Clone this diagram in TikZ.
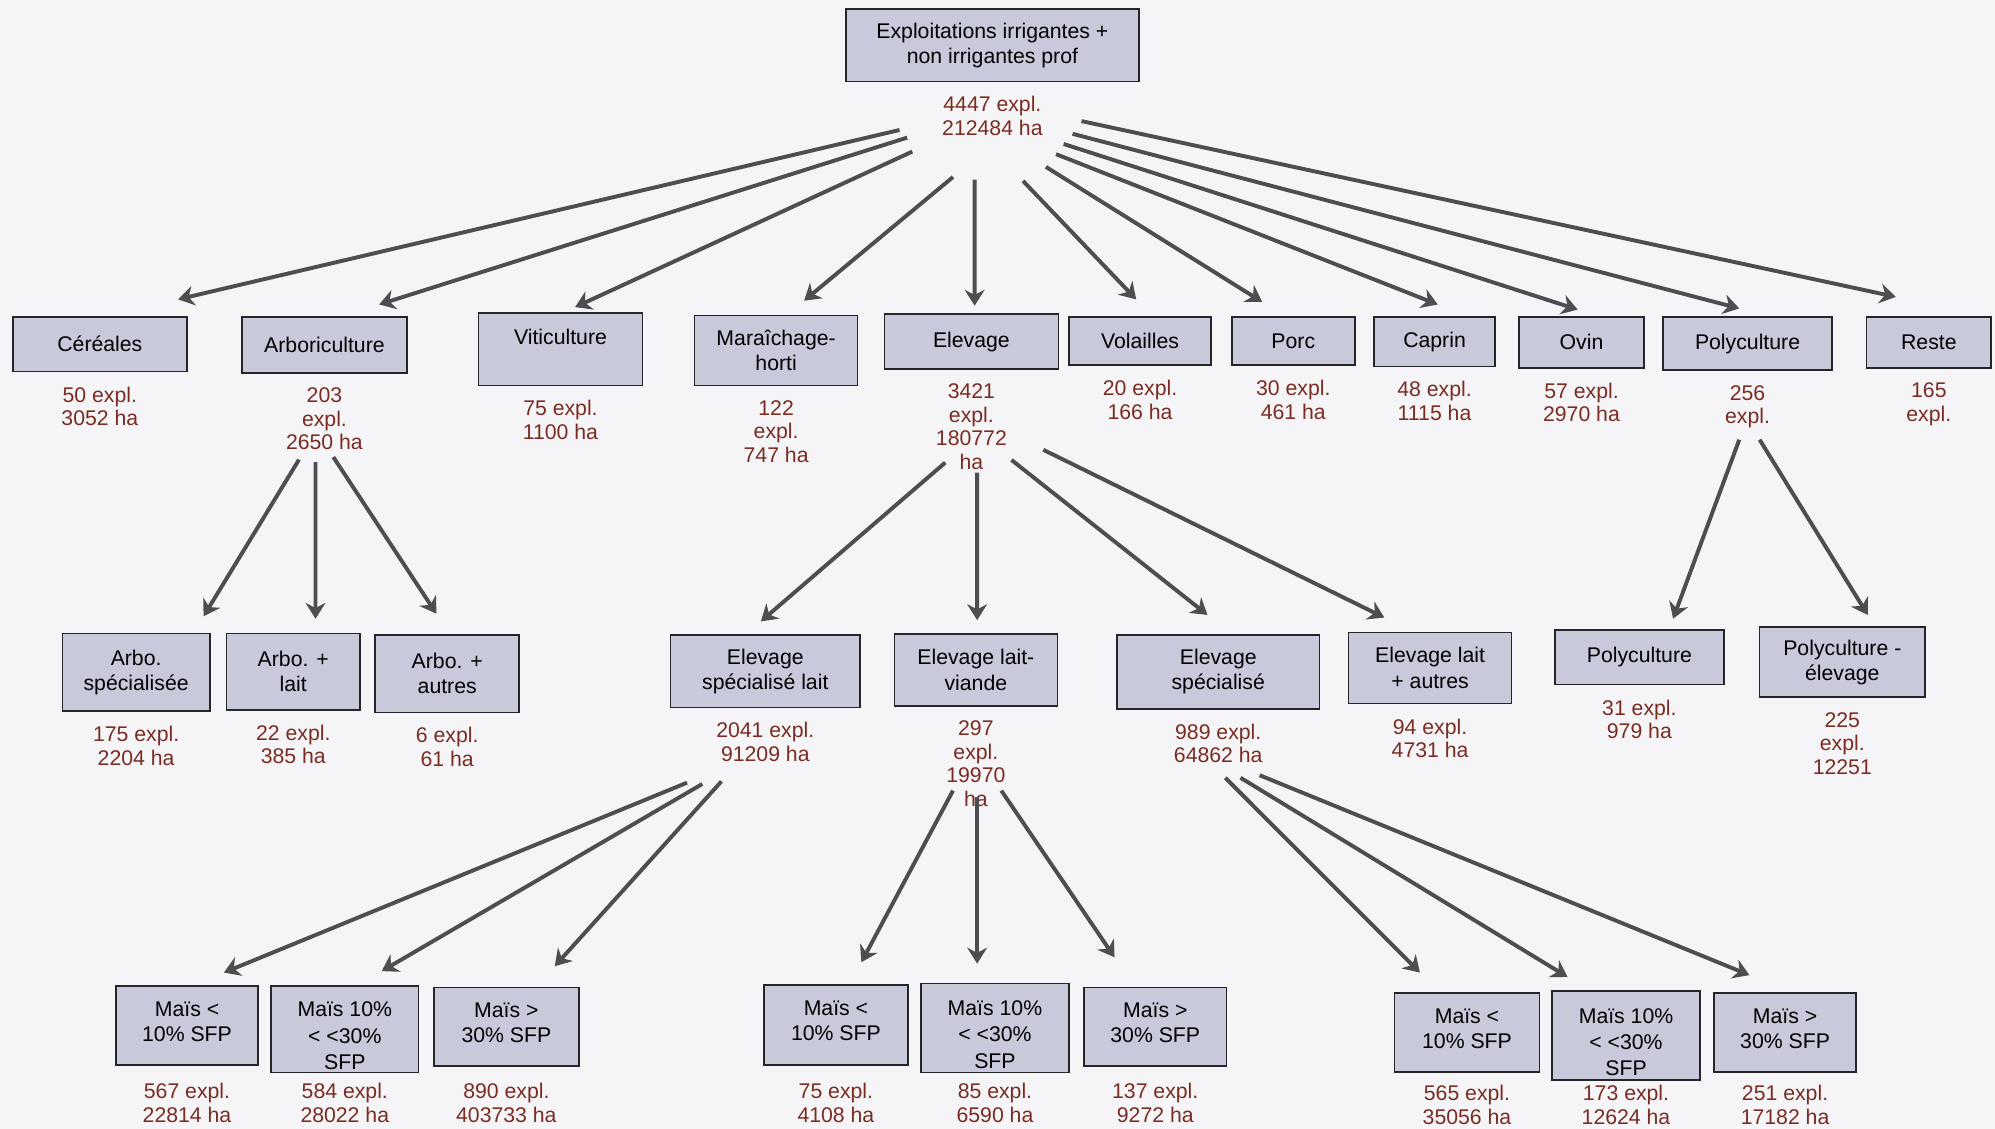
\documentclass[tikz,border=0pt]{standalone}
\usepackage{fontspec}
\setmainfont{Liberation Sans}
\usepackage{tikz}
\usetikzlibrary{arrows.meta, positioning, calc}
\definecolor{boxfill}{RGB}{201,201,220}
\definecolor{statred}{RGB}{122,44,34}
\definecolor{arrowgray}{RGB}{78,78,82}
\definecolor{paper}{RGB}{245,245,247}

\begin{document}
\begin{tikzpicture}[
  x=0.032cm, y=-0.032cm,
  node distance=10pt,
  box/.style={rectangle, draw=black!85, line width=1.2pt, fill=boxfill, align=center, inner sep=2pt, font=\fontsize{15.2}{18}\selectfont},
  maisbox/.style={box, path picture={\node[anchor=north, align=center, inner sep=0pt, font=\fontsize{15.2}{18.8}\selectfont] at ([yshift=-4pt]path picture bounding box.north) {Maïs 10\%\\< <30\%\\SFP};}},
  stats/.style={align=center, inner sep=0pt, text=statred, font=\fontsize{15.2}{16.8}\selectfont},
  arrow/.style={-{Stealth[length=4mm, width=5mm, inset=1.3mm]}, line width=2.8pt, draw=arrowgray},
]
\fill[paper] (0,0) rectangle (1568,887);
\useasboundingbox (0,0) rectangle (1568,887);

% Racine
\node[box, minimum width=7.36cm, minimum height=1.82cm] (expl) at (780,35.5) {Exploitations irrigantes +\\non irrigantes prof};
\node[stats, below=of expl] (explstat) {4447 expl.\\212484 ha};

% Premier niveau
\node[box, minimum width=4.38cm, minimum height=1.38cm] (cer) at (78.5,270.5) {Céréales};
\node[stats, below=of cer] (cerstat) {50 expl.\\3052 ha};
\node[box, minimum width=4.16cm, minimum height=1.41cm] (arb) at (255,271) {Arboriculture};
\node[stats, below=of arb] (arbstat) {203\\expl.\\2650 ha};
\node[box, minimum width=4.13cm, minimum height=1.82cm, text height=11pt, text depth=18pt] (vit) at (440.5,274.5) {Viticulture};
\node[stats, below=of vit] (vitstat) {75 expl.\\1100 ha};
\node[box, minimum width=4.10cm, minimum height=1.76cm] (mar) at (610,275.5) {Maraîchage-\\horti};
\node[stats, below=of mar] (marstat) {122\\expl.\\747 ha};
\node[box, minimum width=4.38cm, minimum height=1.38cm] (ele) at (763.5,268.5) {Elevage};
\node[stats, below=of ele] (elestat) {3421\\expl.\\180772\\ha};
\node[box, minimum width=3.58cm, minimum height=1.22cm] (vol) at (896,268) {Volailles};
\node[stats, below=of vol] (volstat) {20 expl.\\166 ha};
\node[box, minimum width=3.10cm, minimum height=1.22cm] (por) at (1016.5,268) {Porc};
\node[stats, below=of por] (porstat) {30 expl.\\461 ha};
\node[box, minimum width=3.04cm, minimum height=1.25cm] (cap) at (1127.5,268.5) {Caprin};
\node[stats, below=of cap] (capstat) {48 expl.\\1115 ha};
\node[box, minimum width=3.14cm, minimum height=1.28cm] (ovi) at (1243,269) {Ovin};
\node[stats, below=of ovi] (ovistat) {57 expl.\\2970 ha};
\node[box, minimum width=4.26cm, minimum height=1.34cm] (pol) at (1373.5,270) {Polyculture};
\node[stats, below=of pol] (polstat) {256\\expl.};
\node[box, minimum width=3.14cm, minimum height=1.28cm] (res) at (1516,269) {Reste};
\node[stats, below=of res] (resstat) {165\\expl.};

% Second niveau
\node[box, minimum width=3.71cm, minimum height=1.95cm] (as) at (107,528.5) {Arbo.\\spécialisée};
\node[stats, below=of as] (asstat) {175 expl.\\2204 ha};
\node[box, minimum width=3.36cm, minimum height=1.92cm] (al) at (230.5,528) {Arbo. +\\lait};
\node[stats, below=of al] (alstat) {22 expl.\\385 ha};
\node[box, minimum width=3.62cm, minimum height=1.95cm] (aa) at (351.5,529.5) {Arbo. +\\autres};
\node[stats, below=of aa] (aastat) {6 expl.\\61 ha};
\node[box, minimum width=4.77cm, minimum height=1.82cm] (esl) at (601.5,527.5) {Elevage\\spécialisé lait};
\node[stats, below=of esl] (eslstat) {2041 expl.\\91209 ha};
\node[box, minimum width=4.10cm, minimum height=1.82cm] (elv) at (767,526.5) {Elevage lait-\\viande};
\node[stats, below=of elv] (elvstat) {297\\expl.\\19970\\ha};
\node[box, minimum width=5.09cm, minimum height=1.86cm] (es) at (957.5,528) {Elevage\\spécialisé};
\node[stats, below=of es] (esstat) {989 expl.\\64862 ha};
\node[box, minimum width=4.10cm, minimum height=1.79cm] (ela) at (1124,525) {Elevage lait\\+ autres};
\node[stats, below=of ela] (elastat) {94 expl.\\4731 ha};
\node[box, minimum width=4.26cm, minimum height=1.38cm] (pc) at (1288.5,516.5) {Polyculture};
\node[stats, below=of pc] (pcstat) {31 expl.\\979 ha};
\node[box, minimum width=4.16cm, minimum height=1.76cm] (pe) at (1448,520.5) {Polyculture -\\élevage};
\node[stats, below=of pe] (pestat) {225\\expl.\\12251};

% Maïs / SFP
\node[box, minimum width=3.58cm, minimum height=1.98cm, text depth=6pt] (mA1) at (147,806) {Maïs <\\10\% SFP};
\node[maisbox, minimum width=3.71cm, minimum height=2.18cm] (mA2) at (271,809) {};
\node[box, minimum width=3.65cm, minimum height=1.98cm, text depth=6pt] (mA3) at (398,807) {Maïs >\\30\% SFP};
\node[stats, below=7pt of mA2] (sA2) {584 expl.\\28022 ha};
\node[stats, anchor=north] (sA1) at (mA1.south |- sA2.north) {567 expl.\\22814 ha};
\node[stats, anchor=north] (sA3) at (mA3.south |- sA2.north) {890 expl.\\403733 ha};

\node[box, minimum width=3.62cm, minimum height=2.02cm, text depth=6pt] (mB1) at (657,805.5) {Maïs <\\10\% SFP};
\node[maisbox, minimum width=3.71cm, minimum height=2.24cm] (mB2) at (782,808) {};
\node[box, minimum width=3.58cm, minimum height=1.98cm, text depth=6pt] (mB3) at (908,807) {Maïs >\\30\% SFP};
\node[stats, below=7pt of mB2] (sB2) {85 expl.\\6590 ha};
\node[stats, anchor=north] (sB1) at (mB1.south |- sB2.north) {75 expl.\\4108 ha};
\node[stats, anchor=north] (sB3) at (mB3.south |- sB2.north) {137 expl.\\9272 ha};

\node[box, minimum width=3.65cm, minimum height=1.98cm, text depth=6pt] (mC1) at (1153,811.5) {Maïs <\\10\% SFP};
\node[maisbox, minimum width=3.71cm, minimum height=2.24cm] (mC2) at (1278,814) {};
\node[box, minimum width=3.58cm, minimum height=1.98cm, text depth=6pt] (mC3) at (1403,811.5) {Maïs >\\30\% SFP};
\node[stats, below=3pt of mC2] (sC2) {173 expl.\\12624 ha};
\node[stats, anchor=north] (sC1) at (mC1.south |- sC2.north) {565 expl.\\35056 ha};
\node[stats, anchor=north] (sC3) at (mC3.south |- sC2.north) {251 expl.\\17182 ha};

% Flèches
\draw[arrow] ([shift={(-73,11)}]explstat.center) -- ([shift={(61.5,-13)}]cer.north);
\draw[arrow] ([shift={(-67,17)}]explstat.center) -- ([shift={(43,-9)}]arb.north);
\draw[arrow] ([shift={(-63,28)}]explstat.center) -- ([shift={(11.5,-4)}]vit.north);
\draw[arrow] ([shift={(-31,48)}]explstat.center) -- ([shift={(22,-11)}]mar.north);
\draw[arrow] ([shift={(-14,50)}]explstat.center) -- ([shift={(2.5,-6)}]ele.north);
\draw[arrow] ([shift={(24,51)}]explstat.center) -- ([shift={(-3,-13)}]vol.north);
\draw[arrow] ([shift={(42,40)}]explstat.center) -- ([shift={(-24.5,-11)}]por.north);
\draw[arrow] ([shift={(50,30)}]explstat.center) -- ([shift={(2.5,-9)}]cap.north);
\draw[arrow] ([shift={(56,22)}]explstat.center) -- ([shift={(-3,-5)}]ovi.north);
\draw[arrow] ([shift={(63,14)}]explstat.center) -- ([shift={(-6.5,-6)}]pol.north);
\draw[arrow] ([shift={(70,4)}]explstat.center) -- ([shift={(-26,-15)}]res.north);

\draw[arrow] ([shift={(-20,32)}]arbstat.center) -- ([shift={(53,-13)}]as.north);
\draw[arrow] ([shift={(-7,34)}]arbstat.center) -- ([shift={(17.5,-11)}]al.north);
\draw[arrow] ([shift={(7,30)}]arbstat.center) -- ([shift={(-8.5,-16)}]aa.north);

\draw[arrow] ([shift={(-20.5,28)}]elestat.center) -- ([shift={(-3.5,-10)}]esl.north);
\draw[arrow] ([shift={(4.5,36)}]elestat.center) -- ([shift={(1,-10)}]elv.north);
\draw[arrow] ([shift={(31.5,26)}]elestat.center) -- ([shift={(-8.5,-15)}]es.north);
\draw[arrow] ([shift={(56.5,18)}]elestat.center) -- ([shift={(-36,-11)}]ela.north);

\draw[arrow] ([shift={(-6.5,26)}]polstat.center) -- ([shift={(26.5,-8)}]pc.north);
\draw[arrow] ([shift={(9.5,26)}]polstat.center) -- ([shift={(20,-9)}]pe.north);

\draw[arrow] ([shift={(-61.5,32)}]eslstat.center) -- ([shift={(29,-10)}]mA1.north);
\draw[arrow] ([shift={(-49.5,33)}]eslstat.center) -- ([shift={(29,-11)}]mA2.north);
\draw[arrow] ([shift={(-34.5,31)}]eslstat.center) -- ([shift={(38,-16)}]mA3.north);

\draw[arrow] ([shift={(-18,21)}]elvstat.center) -- ([shift={(20,-17)}]mB1.north);
\draw[arrow] ([shift={(1,26)}]elvstat.center) -- ([shift={(-14,-15)}]mB2.north);
\draw[arrow] ([shift={(20,21)}]elvstat.center) -- ([shift={(-32,-23)}]mB3.north);

\draw[arrow] ([shift={(5.5,27)}]esstat.center) -- ([shift={(-37,-15.5)}]mC1.north);
\draw[arrow] ([shift={(17.5,27)}]esstat.center) -- ([shift={(-46,-10.5)}]mC2.north);
\draw[arrow] ([shift={(32.5,25)}]esstat.center) -- ([shift={(-28,-13.5)}]mC3.north);

\end{tikzpicture}
\end{document}
